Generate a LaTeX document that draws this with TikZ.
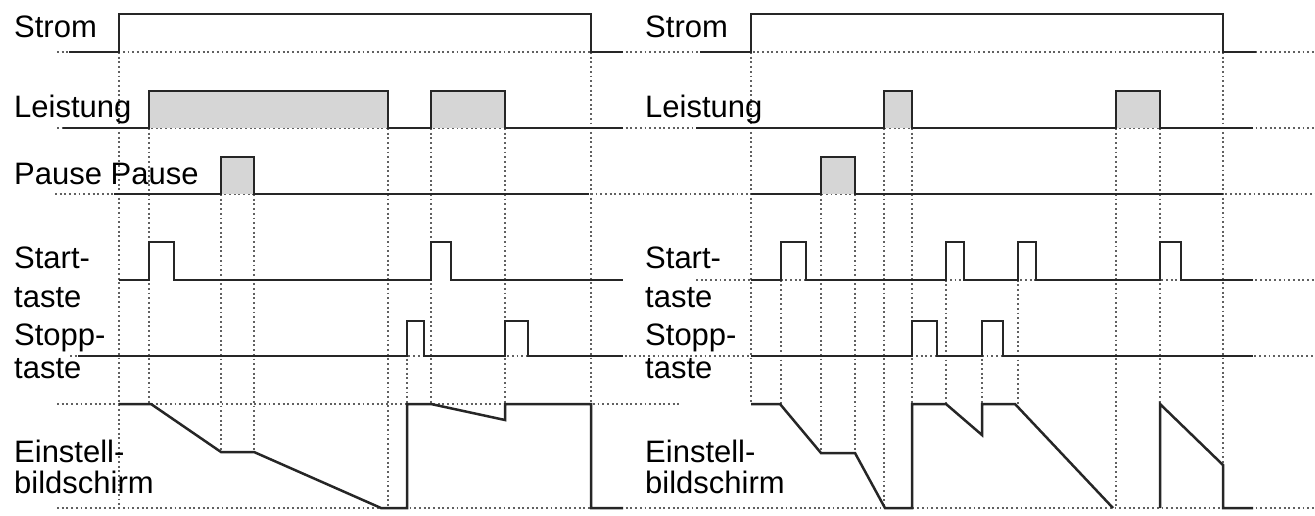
\documentclass[tikz,border=0pt]{standalone}
\usepackage{fontspec}
\setmainfont{Liberation Sans}
\tikzset{
  sig/.style={line width=2.5pt, draw=black!85, line join=miter},
  guide/.style={line width=1.9pt, draw=black!62, dash pattern=on 1.9pt off 2.8pt},
  pulse/.style={fill=black!16},
  lbl/.style={anchor=base west, inner sep=0pt, font=\fontsize{31}{33}\selectfont}
}
\begin{document}
\begin{tikzpicture}[x=1pt, y=-1pt]
    \useasboundingbox (0,0) rectangle (1315,515);
    % horizontal guides
    \draw[guide] (57,52) -- (1315,52);
    \draw[guide] (57,128) -- (1315,128);
    \draw[guide] (55,194) -- (1315,194);
    \draw[guide] (696,280) -- (1315,280);
    \draw[guide] (70,356) -- (1315,356);
    \draw[guide] (57,404) -- (679,404);
    \draw[guide] (57,508) -- (1315,508);
    % vertical guides, left
    \draw[guide] (119,52) -- (119,508);
    \draw[guide] (149,128) -- (149,404);
    \draw[guide] (221,194) -- (221,452);
    \draw[guide] (254,194) -- (254,452);
    \draw[guide] (388,128) -- (388,508);
    \draw[guide] (407,321) -- (407,404);
    \draw[guide] (431,128) -- (431,404);
    \draw[guide] (505,128) -- (505,420);
    \draw[guide] (591,52) -- (591,508);
    % vertical guides, right
    \draw[guide] (751,52) -- (751,404);
    \draw[guide] (781,242) -- (781,404);
    \draw[guide] (821,194) -- (821,453);
    \draw[guide] (855,194) -- (855,453);
    \draw[guide] (884,128) -- (884,508);
    \draw[guide] (912,128) -- (912,404);
    \draw[guide] (946,242) -- (946,404);
    \draw[guide] (982,321) -- (982,435);
    \draw[guide] (1018,242) -- (1018,404);
    \draw[guide] (1116,128) -- (1116,508);
    \draw[guide] (1160,128) -- (1160,404);
    \draw[guide] (1223,52) -- (1223,465);
    % shaded pulses
    \fill[pulse] (149,128) rectangle (388,91);
    \fill[pulse] (431,128) rectangle (505,91);
    \fill[pulse] (221,194) rectangle (254,157);
    \fill[pulse] (884,128) rectangle (912,91);
    \fill[pulse] (1116,128) rectangle (1160,91);
    \fill[pulse] (821,194) rectangle (855,157);
    % left diagram
    \draw[sig] (69,52) -- (119,52) |- (591,14) -- (591,52) -- (623,52);
    \draw[sig] (63,128) -- (149,128) |- (388,91) -- (388,128) -- (431,128) |- (505,91) -- (505,128) -- (623,128);
    \draw[sig] (114,194) -- (221,194) |- (254,157) -- (254,194) -- (589,194);
    \draw[sig] (119,280) -- (149,280) |- (174,242) -- (174,280) -- (431,280) |- (451,242) -- (451,280) -- (623,280);
    \draw[sig] (78,356) -- (407,356) |- (424,321) -- (424,356) -- (505,356) |- (528,321) -- (528,356) -- (623,356);
    \draw[sig] (119,404) -- (151,404) -- (221,452) -- (254,452) -- (381,508) -- (407,508) -- (407,404) -- (431,404) -- (505,420) -- (505,404) -- (591,404) -- (591,508) -- (623,508);
    % right diagram
    \draw[sig] (700,52) -- (751,52) |- (1223,14) -- (1223,52) -- (1256,52);
    \draw[sig] (696,128) -- (884,128) |- (912,91) -- (912,128) -- (1116,128) |- (1160,91) -- (1160,128) -- (1253,128);
    \draw[sig] (751,194) -- (821,194) |- (855,157) -- (855,194) -- (1223,194);
    \draw[sig] (751,280) -- (781,280) |- (806,242) -- (806,280) -- (946,280) |- (964,242) -- (964,280) -- (1018,280) |- (1036,242) -- (1036,280) -- (1160,280) |- (1181,242) -- (1181,280) -- (1253,280);
    \draw[sig] (751,356) -- (912,356) |- (937,321) -- (937,356) -- (982,356) |- (1003,321) -- (1003,356) -- (1253,356);
    \draw[sig] (751,404) -- (780,404) -- (821,453) -- (855,453) -- (885,508) -- (912,508) -- (912,404) -- (946,404) -- (982,435) -- (982,404) -- (1015,404) -- (1113,508);
    \draw[sig] (1160,508) -- (1160,404) -- (1223,465) -- (1223,508) -- (1253,508);
    % labels
    \node[lbl] (stromL) at (14,37) {Strom};
    \node[lbl] (leistL) at (14,117) {Leistung};
    \node[lbl] (pauseL) at (14,184) {Pause Pause};
    \node[lbl] (startL) at (14,268) {Start-};
    \node[lbl] (startLb) at (14,307) {taste};
    \node[lbl] (stoppL) at (14,345) {Stopp-};
    \node[lbl] (stoppLb) at (14,378) {taste};
    \node[lbl] (einstL) at (14,462) {Einstell-};
    \node[lbl] (einstLb) at (14,493) {bildschirm};
    \node[lbl] (stromR) at (645,37) {Strom};
    \node[lbl] (leistR) at (645,117) {Leistung};
    \node[lbl] (startR) at (645,268) {Start-};
    \node[lbl] (startRb) at (645,307) {taste};
    \node[lbl] (stoppR) at (645,345) {Stopp-};
    \node[lbl] (stoppRb) at (645,378) {taste};
    \node[lbl] (einstR) at (645,462) {Einstell-};
    \node[lbl] (einstRb) at (645,493) {bildschirm};
\end{tikzpicture}
\end{document}
